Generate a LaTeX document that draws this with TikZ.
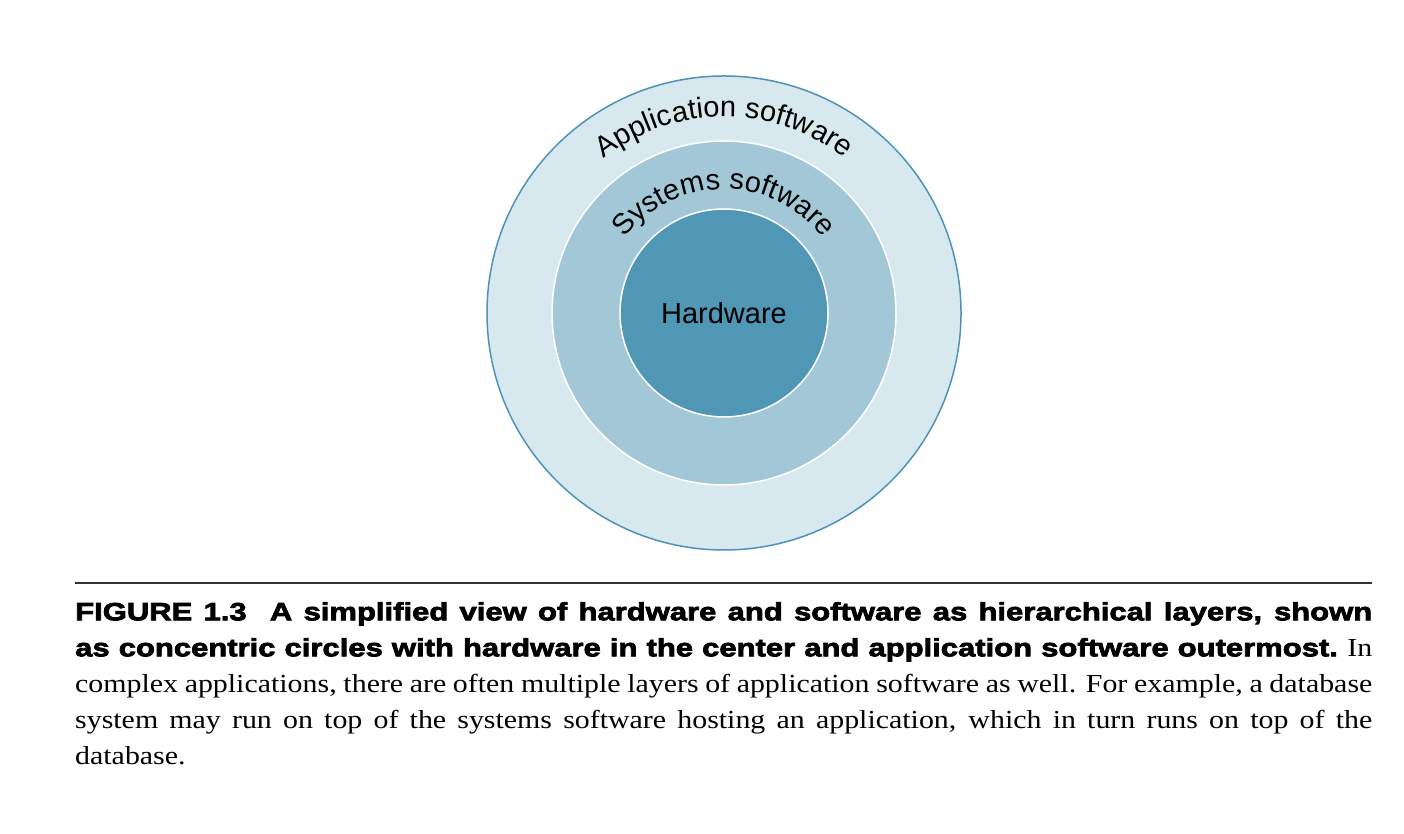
\documentclass[tikz,border=0pt]{standalone}
\usepackage{fontspec}
\setmainfont{Liberation Serif}
\newfontfamily\arialf{Liberation Sans}
\newfontfamily\capheavy[FakeBold=3,FakeStretch=1.24]{Liberation Sans}
\newfontfamily\capserif[FakeStretch=1.15]{Liberation Serif}
\usetikzlibrary{decorations.text}
\definecolor{outerfill}{HTML}{D7E8EE}
\definecolor{outerline}{HTML}{4E93B5}
\definecolor{midfill}{HTML}{A2C8D8}
\definecolor{innerfill}{HTML}{5096B5}
\definecolor{rulegray}{HTML}{333333}
\begin{document}
\begin{tikzpicture}[x=1pt,y=1pt,
  ring/.style={circle, inner sep=0pt, outer sep=0pt},
  ringlabel/.style={font=\arialf\fontsize{29}{29}\selectfont}]
\useasboundingbox (0,0) rectangle (1404,834);
\coordinate (c) at (724,521);
\node[ring, minimum size=474pt, fill=outerfill, draw=outerline, line width=1.5pt] (app) at (c) {};
\node[ring, minimum size=344pt, fill=midfill, draw=white, line width=1.5pt] (sys) at (c) {};
\node[ring, minimum size=208pt, fill=innerfill, draw=white, line width=1.5pt] (hw) at (c) {};
\node[ringlabel] (hwlabel) at (hw.center) {Hardware};
\path[decorate, decoration={text along path, text align=center,
  text={|\arialf\fontsize{29}{29}\selectfont|Application software}}]
  (c) ++(180:196) arc[start angle=180, end angle=0, radius=196];
\path[decorate, decoration={text along path, text align=center,
  text={|\arialf\fontsize{29}{29}\selectfont|Systems software}}]
  (c) ++(180:124) arc[start angle=180, end angle=0, radius=124];
\coordinate (rl) at (75,251);
\coordinate (rr) at (1372,251);
\draw[rulegray, line width=1.8pt] (rl) -- (rr);
\node[anchor=north west, inner sep=0pt] (caption) at (75,232) {\parbox[t]{1297pt}{%
  \setlength{\parindent}{0pt}\fontsize{25}{36}\selectfont
  {\capheavy\bfseries\fontsize{25}{36}\selectfont FIGURE 1.3\hspace{12pt} A simplified view of hardware and software as hierarchical layers, shown\linebreak as concentric circles with hardware in the center and application software outermost.}
  {\capserif\fontsize{26}{36}\selectfont In\linebreak complex applications, there are often multiple layers of application software as well. For example, a database\linebreak system may run on top of the systems software hosting an application, which in turn runs on top of the\linebreak database.}}};
\end{tikzpicture}
\end{document}
